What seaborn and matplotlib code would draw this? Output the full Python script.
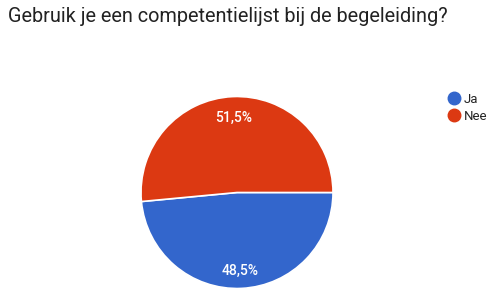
import matplotlib
matplotlib.use("Agg")
import matplotlib.pyplot as plt
from matplotlib.lines import Line2D
import numpy as np
import seaborn as sns

categories = ["Ja", "Nee"]
values = [48.5, 51.5]
pct_labels = ["48,5%", "51,5%"]
colors = ["#3366CC", "#DC3912"]
title = "Gebruik je een competentielijst bij de begeleiding?"

sns.set_theme(style="white")
plt.rcParams["font.family"] = ["Roboto", "DejaVu Sans"]

W, H = 499, 296
fig = plt.figure(figsize=(W / 100, H / 100), dpi=100)
cx, cy, r = 237, 192.5, 96
ax = fig.add_axes([(cx - r) / W, (H - cy - r) / H, 2 * r / W, 2 * r / H])
wedges, _ = ax.pie(values, colors=colors, startangle=0, counterclock=False,
                   wedgeprops=dict(edgecolor="white", linewidth=1.2))
for w, lab in zip(wedges, pct_labels):
    ang = np.deg2rad((w.theta1 + w.theta2) / 2)
    ax.text(0.8 * np.cos(ang), 0.8 * np.sin(ang) - 0.02, lab, ha="center", va="center",
            color="white", fontsize=10, fontweight="medium")
ax.set_xlim(-1, 1)
ax.set_ylim(-1, 1)
ax.set_aspect("equal")
ax.axis("off")

fig.text(8 / W, 1 - 16 / H, title, fontsize=14.3, color="#222222", ha="left", va="center")

handles = [Line2D([], [], marker="o", linestyle="", markersize=9,
                  markerfacecolor=c, markeredgecolor=c) for c in colors]
fig.legend(handles, categories, loc="upper left", bbox_to_anchor=(446 / W, 1 - 93 / H),
           frameon=False, fontsize=9.5, handletextpad=0.15, labelspacing=0.3,
           borderpad=0, borderaxespad=0, handlelength=1.2)

fig.savefig("out.png", dpi=100)
